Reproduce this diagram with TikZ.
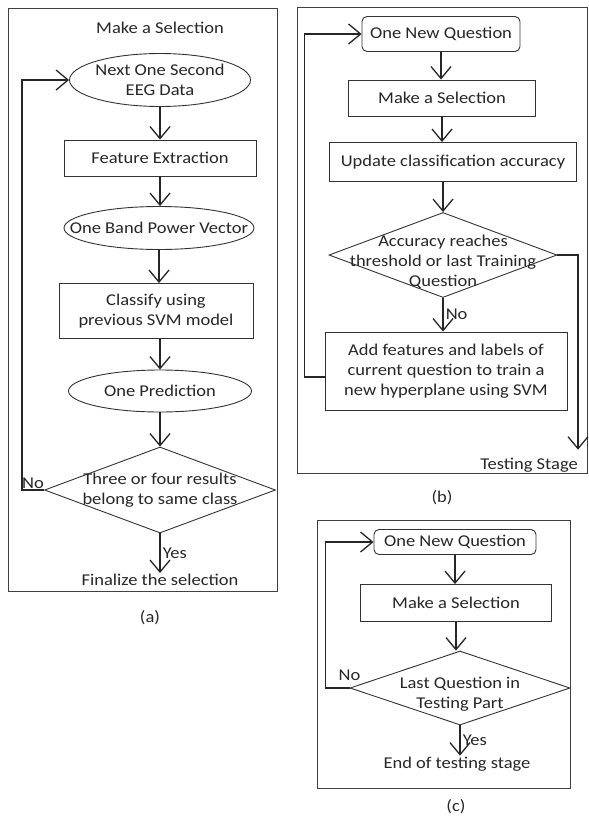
\documentclass[tikz,border=0pt]{standalone}
\usepackage{fontspec}
\setmainfont{Carlito}[FakeStretch=1.12]
\usepackage{tikz}
\usetikzlibrary{arrows.meta,
  calc,
  positioning,
  shapes.geometric
}
\tikzset{
  every node/.style={font=\fontsize{16.5}{20}\selectfont, text=black!85},
  panel/.style={draw=black!75, line width=1pt},
  procbox/.style={rectangle, draw=black!80, line width=0.9pt, inner sep=0pt, align=center},
  startbox/.style={procbox, rounded corners=5pt},
  databox/.style={ellipse, draw=black!80, line width=0.9pt, inner sep=0pt},
  decision/.style={diamond, draw=black!80, line width=0.9pt, inner sep=0pt},
  flow/.style={-{Straight Barb[length=12pt,width=20pt,line width=1.3pt]}, line width=1.5pt, color=black!85},
  plaintext/.style={inner sep=1pt, align=center}
}

\begin{document}
\begin{tikzpicture}[x=1pt, y=-1pt]
  \useasboundingbox (0, 0) rectangle (589, 817);

  \draw[panel] (8, 8) rectangle (277, 591);
  \node[plaintext] (selA) at (160, 28) {Make a Selection};
  \node[databox, minimum width=181, minimum height=53,
  label={[align=center]center:{Next One Second\\EEG Data}}] (nextEEG) at (160, 80) {};
  \node[procbox, minimum width=192, minimum height=36] (featExt) at (160, 158) {Feature Extraction};
  \node[databox, minimum width=190, minimum height=43,
  label={center:One Band Power Vector}] (bandPow) at (159, 228) {};
  \node[procbox, minimum width=194, minimum height=55] (classify) at (156, 311)
  {Classify using\\previous SVM model};
  \node[databox, minimum width=183, minimum height=42,
  label={center:One Prediction}] (onePred) at (160, 391) {};
  \node[decision, minimum width=231, minimum height=86,
  label={[align=center]center:{Three or four results\\belong to same class}}] (sameClass) at (160, 490) {};
  \node[plaintext] (finalSel) at (160, 580) {Finalize the selection};
  \node[plaintext] (capA) at (150, 618) {(a)};

  \draw[flow] (nextEEG.south) -- (nextEEG.south |- featExt.north);
  \draw[flow] (featExt.south) -- (featExt.south |- bandPow.north);
  \draw[flow] (bandPow.south) -- (bandPow.south |- classify.north);
  \draw[flow] (onePred.north |- classify.south) -- (onePred.north);
  \draw[flow] (onePred.south) -- (sameClass.north);
  \draw[flow] (sameClass.south) -- node[right, inner sep=2pt] {Yes} (finalSel.north);
  \draw[flow] (sameClass.west) -- node[above, inner sep=1pt] {No} ++(-22, 0) |- (nextEEG.west);

  \draw[panel] (297, 7) rectangle (587, 473);
  \node[startbox, minimum width=158, minimum height=35] (newQb) at (441, 34) {One New Question};
  \node[procbox, minimum width=187, minimum height=36] (selB) at (442, 98) {Make a Selection};
  \node[procbox, minimum width=247, minimum height=39] (updAcc) at (453, 162) {Update classification accuracy};
  \node[decision, minimum width=228, minimum height=85,
  label={[align=center, yshift=-7pt]center:{Accuracy reaches\\threshold or last Training\\Question}}]
  (accThr) at (443, 255) {};
  \node[procbox, minimum width=242, minimum height=78] (addFeat) at (446, 371)
  {Add features and labels of\\current question to train a\\new hyperplane using SVM};
  \node[plaintext, anchor=east] (testStage) at (579, 465) {Testing Stage};
  \node[plaintext] (capB) at (442, 498) {(b)};

  \draw[flow] (newQb.south) -- (newQb.south |- selB.north);
  \draw[flow] (selB.south) -- (selB.south |- updAcc.north);
  \draw[flow] (accThr.north |- updAcc.south) -- (accThr.north);
  \draw[flow] (accThr.south) -- node[right, inner sep=2pt] {No} (accThr.south |- addFeat.north);
  \draw[flow] ([yshift=-6pt]addFeat.west) -- ++(-20, 0) |- (newQb.west);
  \draw[flow] (accThr.east) -| ([xshift=-1pt, yshift=7pt]testStage.north east);

  \draw[panel] (317, 520) rectangle (570, 788);
  \node[startbox, minimum width=162, minimum height=25] (newQc) at (455, 542) {One New Question};
  \node[procbox, minimum width=191, minimum height=37] (selC) at (456, 603) {Make a Selection};
  \node[decision, minimum width=220, minimum height=74,
  label={[align=center, yshift=-6pt]center:{Last Question in\\Testing Part}}] (lastQ) at (460, 688) {};
  \node[plaintext] (endTest) at (457, 764) {End of testing stage};
  \node[plaintext] (capC) at (456, 807) {(c)};

  \draw[flow] (newQc.south) -- (newQc.south |- selC.north);
  \draw[flow] (selC.south) -- (selC.south |- lastQ.north);
  \draw[flow] (lastQ.south) -- node[right, inner sep=2pt] {Yes} (lastQ.south |- endTest.north);
  \draw[flow] (lastQ.west) node[above=3pt] {No} -- ++(-24, 0) |- (newQc.west);
\end{tikzpicture}
\end{document}
